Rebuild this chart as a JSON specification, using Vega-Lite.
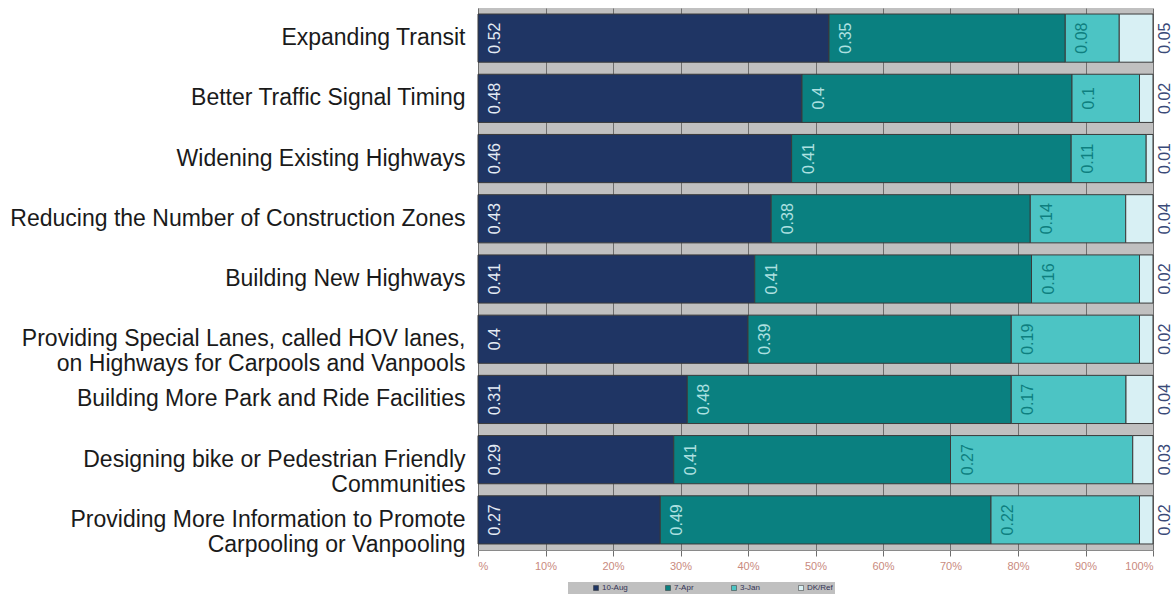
{
  "$schema": "https://vega.github.io/schema/vega-lite/v6.json",
  "width": 675,
  "height": 542,
  "autosize": "none",
  "padding": {"left": 478, "top": 8, "right": 21, "bottom": 44},
  "background": "white",
  "config": {
    "view": {"fill": "#c0c0c0", "stroke": null},
    "font": "Liberation Sans"
  },
  "data": {
    "values": [
      {"item": "Expanding Transit", "cat": "10-Aug", "value": 0.52},
      {"item": "Expanding Transit", "cat": "7-Apr", "value": 0.35},
      {"item": "Expanding Transit", "cat": "3-Jan", "value": 0.08},
      {"item": "Expanding Transit", "cat": "DK/Ref", "value": 0.05},
      {"item": "Better Traffic Signal Timing", "cat": "10-Aug", "value": 0.48},
      {"item": "Better Traffic Signal Timing", "cat": "7-Apr", "value": 0.4},
      {"item": "Better Traffic Signal Timing", "cat": "3-Jan", "value": 0.1},
      {"item": "Better Traffic Signal Timing", "cat": "DK/Ref", "value": 0.02},
      {"item": "Widening Existing Highways", "cat": "10-Aug", "value": 0.46},
      {"item": "Widening Existing Highways", "cat": "7-Apr", "value": 0.41},
      {"item": "Widening Existing Highways", "cat": "3-Jan", "value": 0.11},
      {"item": "Widening Existing Highways", "cat": "DK/Ref", "value": 0.01},
      {"item": "Reducing the Number of Construction Zones", "cat": "10-Aug", "value": 0.43},
      {"item": "Reducing the Number of Construction Zones", "cat": "7-Apr", "value": 0.38},
      {"item": "Reducing the Number of Construction Zones", "cat": "3-Jan", "value": 0.14},
      {"item": "Reducing the Number of Construction Zones", "cat": "DK/Ref", "value": 0.04},
      {"item": "Building New Highways", "cat": "10-Aug", "value": 0.41},
      {"item": "Building New Highways", "cat": "7-Apr", "value": 0.41},
      {"item": "Building New Highways", "cat": "3-Jan", "value": 0.16},
      {"item": "Building New Highways", "cat": "DK/Ref", "value": 0.02},
      {"item": "Providing Special Lanes, called HOV lanes,|on Highways for Carpools and Vanpools", "cat": "10-Aug", "value": 0.4},
      {"item": "Providing Special Lanes, called HOV lanes,|on Highways for Carpools and Vanpools", "cat": "7-Apr", "value": 0.39},
      {"item": "Providing Special Lanes, called HOV lanes,|on Highways for Carpools and Vanpools", "cat": "3-Jan", "value": 0.19},
      {"item": "Providing Special Lanes, called HOV lanes,|on Highways for Carpools and Vanpools", "cat": "DK/Ref", "value": 0.02},
      {"item": "Building More Park and Ride Facilities", "cat": "10-Aug", "value": 0.31},
      {"item": "Building More Park and Ride Facilities", "cat": "7-Apr", "value": 0.48},
      {"item": "Building More Park and Ride Facilities", "cat": "3-Jan", "value": 0.17},
      {"item": "Building More Park and Ride Facilities", "cat": "DK/Ref", "value": 0.04},
      {"item": "Designing bike or Pedestrian Friendly|Communities", "cat": "10-Aug", "value": 0.29},
      {"item": "Designing bike or Pedestrian Friendly|Communities", "cat": "7-Apr", "value": 0.41},
      {"item": "Designing bike or Pedestrian Friendly|Communities", "cat": "3-Jan", "value": 0.27},
      {"item": "Designing bike or Pedestrian Friendly|Communities", "cat": "DK/Ref", "value": 0.03},
      {"item": "Providing More Information to Promote|Carpooling or Vanpooling", "cat": "10-Aug", "value": 0.27},
      {"item": "Providing More Information to Promote|Carpooling or Vanpooling", "cat": "7-Apr", "value": 0.49},
      {"item": "Providing More Information to Promote|Carpooling or Vanpooling", "cat": "3-Jan", "value": 0.22},
      {"item": "Providing More Information to Promote|Carpooling or Vanpooling", "cat": "DK/Ref", "value": 0.02}
    ]
  },
  "transform": [
    {"calculate": "indexof(['10-Aug','7-Apr','3-Jan','DK/Ref'], datum.cat)", "as": "k"},
    {"stack": "value", "groupby": ["item"], "sort": [{"field": "k", "order": "ascending"}], "offset": "normalize", "as": ["x0", "x1"]}
  ],
  "encoding": {
    "y": {
      "field": "item",
      "type": "nominal",
      "sort": null,
      "title": null,
      "scale": {"paddingInner": 0.2, "paddingOuter": 0.1},
      "axis": {
        "labelExpr": "split(datum.label, '|')",
        "labelFontSize": 23,
        "labelLineHeight": 25,
        "labelColor": "#1a1a1a",
        "labelPadding": 13,
        "labelLimit": 600,
        "ticks": false,
        "domain": false,
        "grid": false
      }
    }
  },
  "layer": [
    {
      "mark": {"type": "bar", "stroke": "#3a3a3a", "strokeWidth": 1},
      "encoding": {
        "x": {
          "field": "x0",
          "type": "quantitative",
          "title": null,
          "scale": {"domain": [0, 1], "nice": false},
          "axis": {
            "values": [0, 0.1, 0.2, 0.3, 0.4, 0.5, 0.6, 0.7, 0.8, 0.9, 1],
            "labelExpr": "datum.value == 0 ? '%' : format(datum.value, '.0%')",
            "labelColor": "#c98a7e",
            "labelFontSize": 11,
            "labelPadding": 4,
            "grid": true,
            "gridColor": "#6e6e6e",
            "gridWidth": 1,
            "domainColor": "#8a8a8a",
            "tickColor": "#6e6e6e",
            "tickSize": 6
          }
        },
        "x2": {"field": "x1"},
        "color": {
          "field": "cat",
          "type": "nominal",
          "sort": ["10-Aug", "7-Apr", "3-Jan", "DK/Ref"],
          "scale": {
            "domain": ["10-Aug", "7-Apr", "3-Jan", "DK/Ref"],
            "range": ["#1f3564", "#0a8080", "#4cc4c4", "#d8f0f4"]
          },
          "legend": {
            "orient": "none",
            "legendX": 90,
            "legendY": 574,
            "direction": "horizontal",
            "title": null,
            "fillColor": "#c0c0c0",
            "padding": 2,
            "symbolType": "square",
            "symbolSize": 25,
            "symbolStrokeColor": "#333333",
            "symbolStrokeWidth": 0.5,
            "labelFontSize": 8,
            "labelColor": "#333355",
            "labelOffset": 2,
            "columnPadding": 14,
            "symbolOffset": 22
          }
        }
      }
    },
    {
      "transform": [{"filter": "datum.cat != 'DK/Ref'"}],
      "mark": {"type": "text", "angle": 270, "dy": 17, "fontSize": 16, "align": "center", "baseline": "middle"},
      "encoding": {
        "x": {"field": "x0", "type": "quantitative"},
        "text": {"field": "value", "type": "nominal"},
        "color": {
          "field": "cat",
          "type": "nominal",
          "scale": {
            "domain": ["10-Aug", "7-Apr", "3-Jan"],
            "range": ["#e4ebf4", "#aee0e0", "#0e7f7f"]
          },
          "legend": null
        }
      }
    },
    {
      "transform": [{"filter": "datum.cat == 'DK/Ref'"}],
      "mark": {"type": "text", "angle": 270, "dy": 12, "fontSize": 16, "align": "center", "baseline": "middle", "color": "#3a4a78"},
      "encoding": {
        "x": {"field": "x1", "type": "quantitative"},
        "text": {"field": "value", "type": "nominal"}
      }
    }
  ],
  "resolve": {"scale": {"color": "independent"}}
}
